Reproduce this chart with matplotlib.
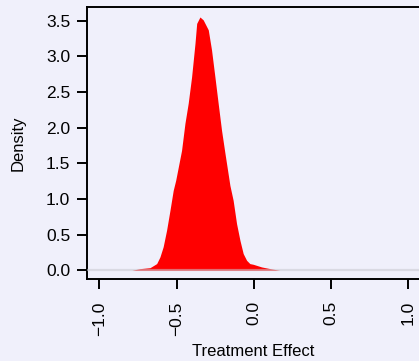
import numpy as np
import matplotlib
matplotlib.use("Agg")
import matplotlib.pyplot as plt

# curva de densidad (efecto del tratamiento)
efecto = [-0.790, -0.737, -0.672, -0.629, -0.608, -0.587, -0.565, -0.543, -0.522, -0.506,
          -0.468, -0.446, -0.425, -0.403, -0.381, -0.370, -0.349, -0.328, -0.295, -0.274,
          -0.252, -0.231, -0.209, -0.187, -0.155, -0.134, -0.112, -0.090, -0.069, -0.047,
          -0.026, -0.004, 0.050, 0.115, 0.168]
densidad = [0.0, 0.023, 0.037, 0.094, 0.187, 0.33, 0.56, 0.84, 1.12, 1.26,
            1.68, 2.06, 2.34, 2.71, 3.18, 3.46, 3.55, 3.51, 3.37, 3.09,
            2.71, 2.34, 1.96, 1.64, 1.19, 0.98, 0.655, 0.42, 0.234, 0.14,
            0.094, 0.084, 0.047, 0.019, 0.0]

xticks = [-1.0, -0.5, 0.0, 0.5, 1.0]
yticks = [0.0, 0.5, 1.0, 1.5, 2.0, 2.5, 3.0, 3.5]

fondo = '#F0F0FB'
plt.rcParams['font.family'] = ['Liberation Sans', 'DejaVu Sans']

fig = plt.figure(figsize=(4.19, 3.61), dpi=100, facecolor=fondo)
ax = fig.add_axes([87/419, 82/361, 1 - 87/419, 272/361])
ax.set_facecolor(fondo)

ax.fill_between(efecto, densidad, 0, color='#FF0000', linewidth=0, zorder=2)
# línea de cero por encima del área (queda rosada sobre el rojo)
ax.axhline(0, color='#C8C8D0', alpha=0.55, linewidth=1.6, zorder=3)

ax.set_xlim(-1.08, 1.069)
ax.set_ylim(-0.122, 3.69)
ax.set_xticks(xticks)
ax.set_yticks(yticks)
ax.set_xticklabels([f'{v:.1f}' if v >= 0 else f'\u2212{abs(v):.1f}' for v in xticks], rotation=90)
ax.set_yticklabels([f'{v:.1f}' for v in yticks])

ax.spines['right'].set_visible(False)
for s in ['left', 'top', 'bottom']:
    ax.spines[s].set_linewidth(1.4)
ax.tick_params(axis='both', length=7, width=1.4, labelsize=12.5, direction='out')
ax.tick_params(axis='y', pad=5)
ax.tick_params(axis='x', pad=9)

ax.set_xlabel('Treatment Effect', fontsize=12, labelpad=6)
ax.set_ylabel('Density', fontsize=12, labelpad=15)

fig.savefig('out.png', dpi=100, facecolor=fondo)
